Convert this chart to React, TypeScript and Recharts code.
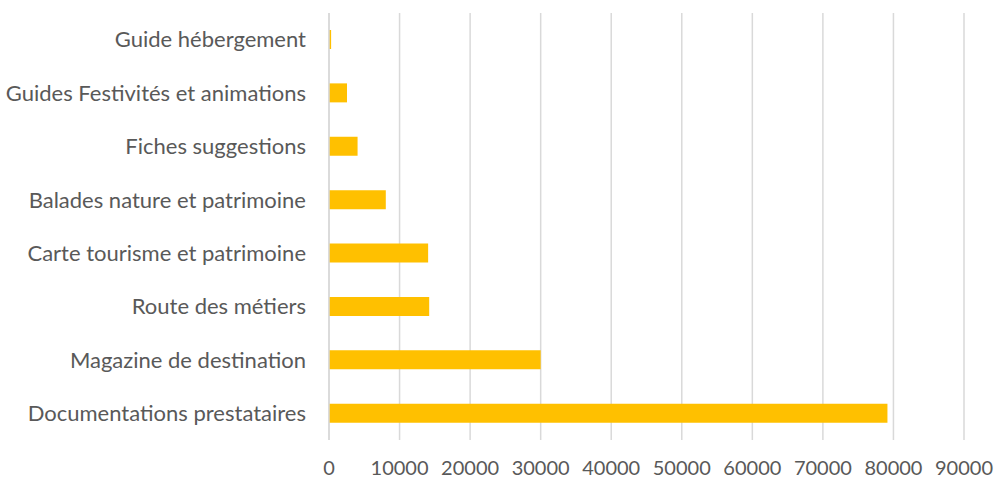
import { BarChart, Bar, XAxis, YAxis, CartesianGrid } from 'recharts'

const categories = [
  'Guide hébergement',
  'Guides Festivités et animations',
  'Fiches suggestions',
  'Balades nature et patrimoine',
  'Carte tourisme et patrimoine',
  'Route des métiers',
  'Magazine de destination',
  'Documentations prestataires',
]
const values = [300, 2550, 4050, 8050, 14050, 14200, 30000, 79150]
const xTicks = [0, 10000, 20000, 30000, 40000, 50000, 60000, 70000, 80000, 90000]

const data = categories.map((name, i) => ({ name, value: values[i] }))

const yFont = { fill: '#595959', fontSize: 22, fontFamily: 'Lato, sans-serif' }
const xFont = { fill: '#595959', fontSize: 20, fontFamily: 'Lato, sans-serif' }

export default function App() {
  return (
    <div style={{ position: 'absolute', left: 0, top: 0 }}>
      <BarChart
        width={996}
        height={481}
        data={data}
        layout="vertical"
        margin={{ top: 13, right: 32, left: 0, bottom: 0 }}
      >
        <CartesianGrid horizontal={false} stroke="#d9d9d9" strokeWidth={1.5} />
        <XAxis
          type="number"
          domain={[0, 90000]}
          ticks={xTicks}
          interval={0}
          axisLine={false}
          tickLine={false}
          tick={xFont}
          tickMargin={15}
          height={41}
        />
        <YAxis
          type="category"
          dataKey="name"
          width={329}
          axisLine={{ stroke: '#d9d9d9', strokeWidth: 1.5 }}
          tickLine={false}
          tick={yFont}
          tickMargin={17}
          interval={0}
        />
        <Bar dataKey="value" fill="#FFC000" barSize={19} isAnimationActive={false} />
      </BarChart>
    </div>
  )
}
